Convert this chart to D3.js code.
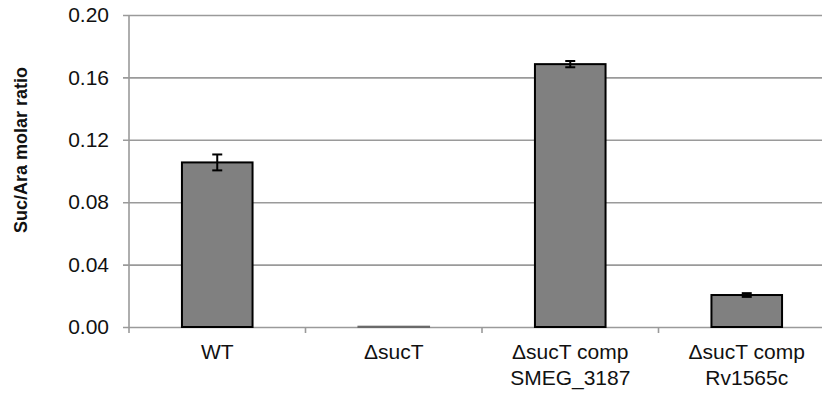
<!DOCTYPE html>
<html>
<head>
<meta charset="utf-8">
<script src="https://cdn.jsdelivr.net/npm/d3@7"></script>
<style>
  html, body { margin: 0; padding: 0; background: #fff; }
  svg { display: block; font-family: "Liberation Sans", Arial, sans-serif; }
</style>
</head>
<body>
<svg id="chart" width="822" height="393"></svg>
<script>
// Strains and their succinyl/arabinose molar ratios (mean ± error)
const categories = [["WT"], ["\u0394sucT"], ["\u0394sucT comp", "SMEG_3187"], ["\u0394sucT comp", "Rv1565c"]];
const values = [0.1055, 0.0002, 0.1685, 0.0205];
const errors = [0.0051, 0.0000, 0.0020, 0.0012];
const yTicks = [0.00, 0.04, 0.08, 0.12, 0.16, 0.20];
const yTitle = "Suc/Ara molar ratio";

const svg = d3.select("#chart");
const plotLeft = 129, plotRight = 835, plotTop = 15, plotBottom = 327;
const fontFamily = "Liberation Sans, Arial, sans-serif";

const x = d3.scaleBand().domain(d3.range(categories.length)).range([plotLeft, plotRight]).paddingInner(0.6).paddingOuter(0.3);
const xOuter = d3.scaleBand().domain(d3.range(categories.length)).range([plotLeft, plotRight]);
const y = d3.scaleLinear().domain([0, 0.2]).range([plotBottom, plotTop]);

// Horizontal gridlines with short outward ticks
const yAxis = d3.axisLeft(y).tickValues(yTicks).tickFormat(d3.format(".2f")).tickSize(-(plotRight - plotLeft)).tickPadding(20);
const gy = svg.append("g").attr("transform", `translate(${plotLeft},0)`).call(yAxis);
gy.select(".domain").remove();
gy.selectAll(".tick line").attr("x1", -6).attr("stroke", "#9a9a9a").attr("stroke-width", 1.6);
gy.selectAll(".tick text").attr("font-size", 21).attr("fill", "#111").attr("font-family", fontFamily);

// Vertical axis line
svg.append("line").attr("x1", plotLeft).attr("x2", plotLeft).attr("y1", plotTop).attr("y2", plotBottom + 6)
  .attr("stroke", "#9a9a9a").attr("stroke-width", 1.6);

// Category separators below the baseline
svg.append("g").selectAll("line").data(d3.range(1, categories.length)).join("line")
  .attr("x1", d => xOuter(d)).attr("x2", d => xOuter(d))
  .attr("y1", plotBottom).attr("y2", plotBottom + 6)
  .attr("stroke", "#9a9a9a").attr("stroke-width", 1.6);

// Bars
svg.append("g").selectAll("rect").data(values).join("rect")
  .attr("x", (d, i) => x(i))
  .attr("width", x.bandwidth())
  .attr("y", d => y(d))
  .attr("height", d => y(0) - y(d))
  .attr("fill", "#808080")
  .attr("stroke", (d) => d < 0.001 ? "#6a6a6a" : "#000")
  .attr("stroke-width", 2);

// Error bars
const eb = svg.append("g").attr("stroke", "#000").attr("stroke-width", 2);
values.forEach((v, i) => {
  if (errors[i] <= 0) return;
  const cx = x(i) + x.bandwidth() / 2;
  const y1 = y(v + errors[i]), y2 = y(v - errors[i]);
  eb.append("line").attr("x1", cx).attr("x2", cx).attr("y1", y1).attr("y2", y2);
  eb.append("line").attr("x1", cx - 5).attr("x2", cx + 5).attr("y1", y1).attr("y2", y1);
  eb.append("line").attr("x1", cx - 5).attr("x2", cx + 5).attr("y1", y2).attr("y2", y2);
});

// Category labels
const lab = svg.append("g").attr("font-size", 21).attr("fill", "#111").attr("text-anchor", "middle");
categories.forEach((lines, i) => {
  const cx = xOuter(i) + xOuter.bandwidth() / 2;
  const t = lab.append("text").attr("x", cx).attr("y", 359);
  lines.forEach((s, j) => t.append("tspan").attr("x", cx).attr("dy", j === 0 ? 0 : 26).text(s));
});

// Y-axis title
svg.append("text")
  .attr("transform", "translate(27,150) rotate(-90)")
  .attr("text-anchor", "middle")
  .attr("font-size", 18).attr("font-weight", "bold").attr("fill", "#111")
  .text(yTitle);
</script>
</body>
</html>
